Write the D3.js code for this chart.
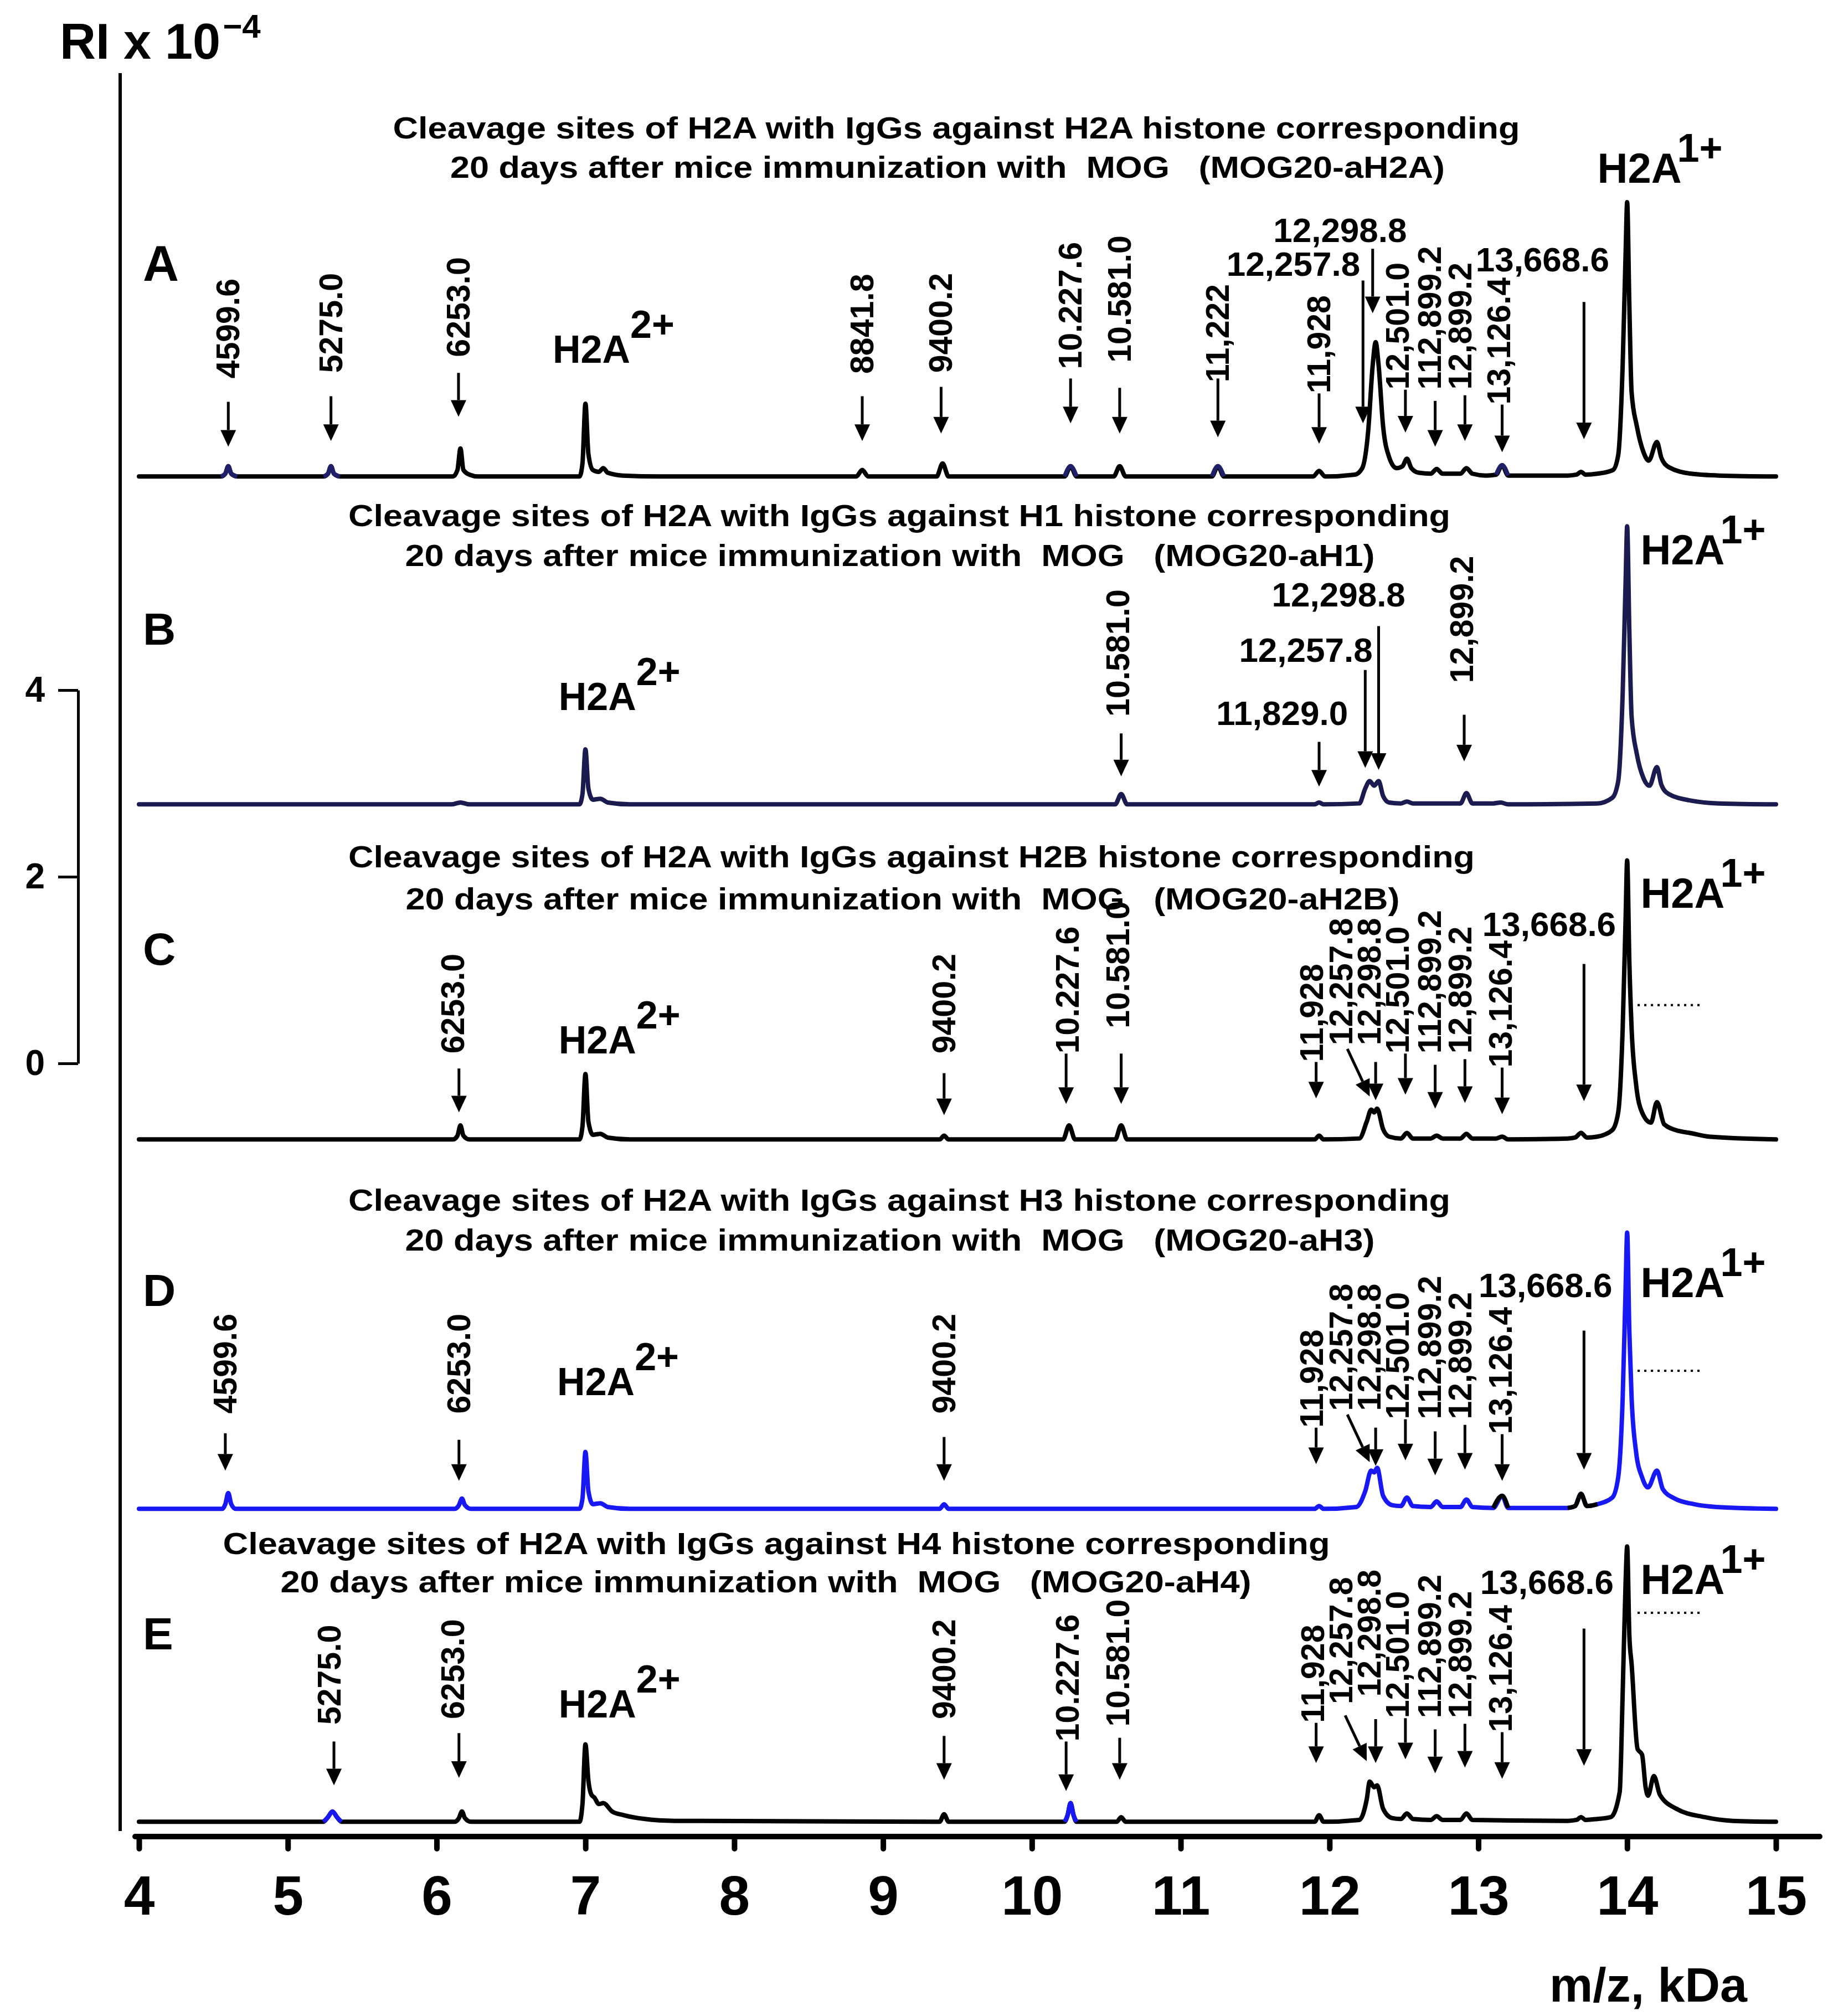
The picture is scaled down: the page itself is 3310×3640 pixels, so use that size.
<!DOCTYPE html>
<html>
<head>
<meta charset="utf-8">
<script src="https://cdn.jsdelivr.net/npm/d3@7"></script>
<style>body{margin:0;background:#fff}</style>
</head>
<body>
<script>
var FONT = "'Liberation Sans', Arial, sans-serif"

// ---- data ----
var xTicks = [4,5,6,7,8,9,10,11,12,13,14,15]
var scaleTicks = [0,2,4]
var panelLetters = ["A","B","C","D","E"]

var titleLine1 = [
	"Cleavage sites of H2A with IgGs against H2A histone corresponding",
	"Cleavage sites of H2A with IgGs against H1 histone corresponding",
	"Cleavage sites of H2A with IgGs against H2B histone corresponding",
	"Cleavage sites of H2A with IgGs against H3 histone corresponding",
	"Cleavage sites of H2A with IgGs against H4 histone corresponding"
]
var titleLine2 = [
	"20 days after mice immunization with  MOG   (MOG20-aH2A)",
	"20 days after mice immunization with  MOG   (MOG20-aH1)",
	"20 days after mice immunization with  MOG   (MOG20-aH2B)",
	"20 days after mice immunization with  MOG   (MOG20-aH3)",
	"20 days after mice immunization with  MOG   (MOG20-aH4)"
]

// spectra: [m/z kDa, RI x 10^-4]
var traceA = [[4.0,0.01],[4.55,0.01],[4.58,0.04],[4.60,0.12],[4.62,0.04],[4.66,0.01],
	[5.24,0.01],[5.27,0.04],[5.29,0.12],[5.31,0.04],[5.35,0.01],
	[6.11,0.01],[6.14,0.08],[6.16,0.31],[6.18,0.08],[6.22,0.03],[6.28,0.01],
	[6.96,0.01],[6.98,0.15],[7.00,0.79],[7.02,0.25],[7.05,0.08],[7.09,0.06],[7.12,0.10],[7.15,0.05],[7.25,0.02],[7.5,0.01],
	[8.82,0.01],[8.86,0.08],[8.90,0.01],
	[9.36,0.01],[9.40,0.15],[9.44,0.01],
	[10.22,0.01],[10.26,0.12],[10.30,0.01],
	[10.55,0.01],[10.59,0.12],[10.63,0.01],
	[11.21,0.01],[11.25,0.12],[11.29,0.01],
	[11.89,0.01],[11.93,0.07],[11.97,0.01],
	[12.17,0.03],[12.22,0.10],[12.26,0.5],[12.29,1.2],[12.31,1.45],[12.33,1.2],[12.36,0.55],[12.40,0.22],[12.45,0.10],[12.49,0.12],[12.52,0.20],[12.55,0.10],[12.60,0.05],
	[12.68,0.04],[12.72,0.09],[12.76,0.04],
	[12.88,0.04],[12.92,0.10],[12.96,0.04],
	[13.05,0.02],[13.12,0.03],[13.16,0.13],[13.20,0.02],
	[13.60,0.02],[13.66,0.03],[13.69,0.06],[13.72,0.03],
	[13.80,0.04],[13.905,0.08],[13.94,0.24],[13.97,1.21],[13.99,2.42],[14.0,2.95],[14.015,1.83],[14.03,0.91],[14.065,0.55],[14.11,0.27],[14.145,0.18],[14.2,0.38],[14.23,0.21],[14.28,0.11],[14.43,0.04],[14.62,0.02],[15.0,0.01]]

var traceB = [[4.0,0.01],[6.10,0.01],[6.16,0.03],[6.22,0.01],
	[6.96,0.01],[6.98,0.12],[7.0,0.60],[7.02,0.18],[7.05,0.06],[7.10,0.07],[7.15,0.03],[7.3,0.01],
	[10.56,0.01],[10.60,0.12],[10.64,0.01],
	[11.90,0.01],[11.93,0.03],[11.96,0.01],
	[12.20,0.02],[12.24,0.18],[12.27,0.26],[12.30,0.21],[12.33,0.26],[12.36,0.10],[12.40,0.03],
	[12.48,0.02],[12.52,0.04],[12.56,0.02],
	[12.88,0.02],[12.92,0.13],[12.96,0.02],
	[13.10,0.02],[13.15,0.03],[13.20,0.01],
	[13.80,0.02],[13.90,0.08],[13.94,0.26],[13.97,1.2],[13.99,2.42],[14.0,2.99],[14.015,1.85],[14.03,0.95],[14.065,0.55],[14.11,0.29],[14.15,0.21],[14.2,0.41],[14.23,0.22],[14.28,0.12],[14.43,0.05],[14.62,0.02],[15.0,0.01]]

var traceC = [[4.0,0.01],[6.11,0.01],[6.14,0.05],[6.16,0.16],[6.18,0.05],[6.22,0.01],
	[6.96,0.01],[6.98,0.15],[7.0,0.71],[7.02,0.2],[7.05,0.06],[7.10,0.07],[7.15,0.03],[7.3,0.01],
	[9.38,0.01],[9.41,0.05],[9.44,0.01],
	[10.21,0.01],[10.25,0.16],[10.29,0.01],
	[10.56,0.01],[10.60,0.16],[10.64,0.01],
	[11.90,0.01],[11.93,0.05],[11.96,0.01],
	[12.20,0.02],[12.25,0.2],[12.28,0.33],[12.30,0.30],[12.32,0.34],[12.36,0.12],[12.40,0.04],
	[12.48,0.02],[12.52,0.08],[12.56,0.02],
	[12.68,0.02],[12.72,0.05],[12.76,0.02],
	[12.88,0.02],[12.92,0.07],[12.96,0.02],
	[13.12,0.02],[13.16,0.04],[13.20,0.01],
	[13.60,0.02],[13.65,0.03],[13.69,0.08],[13.73,0.03],
	[13.80,0.04],[13.90,0.11],[13.94,0.30],[13.97,1.2],[13.99,2.4],[14.0,3.0],[14.015,1.9],[14.03,1.2],[14.06,0.6],[14.10,0.3],[14.16,0.19],[14.2,0.41],[14.25,0.17],[14.35,0.10],[14.42,0.08],[14.55,0.04],[15.0,0.01]]

var traceD = [[4.0,0.01],[4.56,0.01],[4.58,0.06],[4.60,0.18],[4.62,0.06],[4.65,0.01],
	[6.12,0.01],[6.15,0.05],[6.17,0.12],[6.19,0.05],[6.23,0.01],
	[6.96,0.01],[6.98,0.12],[7.0,0.62],[7.02,0.2],[7.05,0.06],[7.10,0.07],[7.15,0.03],[7.3,0.01],
	[9.38,0.01],[9.41,0.06],[9.44,0.01],
	[11.90,0.01],[11.93,0.04],[11.96,0.01],
	[12.18,0.03],[12.24,0.2],[12.28,0.42],[12.30,0.40],[12.32,0.45],[12.36,0.15],[12.42,0.05],
	[12.48,0.04],[12.52,0.13],[12.56,0.04],
	[12.68,0.03],[12.72,0.09],[12.76,0.03],
	[12.88,0.03],[12.92,0.11],[12.96,0.03],
	[13.10,0.02],[13.16,0.15],[13.20,0.02],
	[13.60,0.02],[13.65,0.04],[13.69,0.17],[13.73,0.04],
	[13.80,0.06],[13.90,0.13],[13.94,0.35],[13.97,1.2],[13.99,2.4],[14.0,2.97],[14.015,1.9],[14.03,1.2],[14.06,0.62],[14.10,0.35],[14.14,0.24],[14.2,0.42],[14.24,0.22],[14.32,0.12],[14.45,0.06],[14.6,0.03],[15.0,0.01]]

var traceE = [[4.0,0.01],[5.24,0.01],[5.27,0.06],[5.30,0.12],[5.33,0.06],[5.36,0.01],
	[6.12,0.01],[6.15,0.05],[6.17,0.12],[6.19,0.05],[6.23,0.01],
	[6.96,0.01],[6.98,0.2],[7.0,0.84],[7.02,0.45],[7.04,0.3],[7.06,0.27],[7.09,0.2],[7.12,0.21],[7.18,0.12],[7.26,0.08],[7.4,0.04],[7.6,0.02],
	[9.38,0.01],[9.41,0.09],[9.44,0.01],
	[10.22,0.01],[10.24,0.08],[10.26,0.21],[10.28,0.08],[10.30,0.01],
	[10.57,0.01],[10.60,0.06],[10.63,0.01],
	[11.90,0.01],[11.93,0.08],[11.96,0.01],
	[12.20,0.03],[12.25,0.25],[12.27,0.44],[12.30,0.38],[12.32,0.40],[12.36,0.15],[12.42,0.05],
	[12.48,0.04],[12.52,0.10],[12.56,0.04],
	[12.68,0.03],[12.72,0.07],[12.76,0.03],
	[12.88,0.03],[12.92,0.10],[12.96,0.03],
	[13.60,0.02],[13.66,0.03],[13.69,0.06],[13.72,0.03],
	[13.80,0.04],[13.89,0.06],[13.95,0.33],[13.97,1.39],[13.99,2.6],[14.0,2.96],[14.015,2.0],[14.03,1.7],[14.07,0.79],[14.10,0.73],[14.125,0.37],[14.14,0.29],[14.18,0.5],[14.22,0.3],[14.33,0.15],[14.52,0.06],[14.71,0.02],[15.0,0.01]]

// annotations: [label, kind, labelMz, labelRI, tailMz, tailRI, tipMz, tipRI]
var marksA = [
	["4599.6","v",4.60,1.06, 4.60,0.81,4.60,0.33],
	["5275.0","v",5.29,1.12, 5.29,0.87,5.29,0.39],
	["6253.0","v",6.147,1.29, 6.147,1.12,6.147,0.65],
	["8841.8","v",8.86,1.11, 8.86,0.87,8.86,0.39],
	["9400.2","v",9.39,1.12, 9.39,0.97,9.39,0.47],
	["10.227.6","v",10.26,1.16, 10.26,1.06,10.26,0.58],
	["10.581.0","v",10.59,1.23, 10.59,0.96,10.59,0.47],
	["11,222","v",11.25,1.02, 11.25,1.06,11.25,0.43],
	["11,928","v",11.93,0.90, 11.93,0.90,11.93,0.36],
	["12,257.8","h",12.206,2.16, 12.225,2.11,12.225,0.58],
	["12,298.8","h",12.52,2.52, 12.29,2.45,12.29,1.76],
	["12,501.0","v",12.46,0.94, 12.51,0.94,12.51,0.48],
	["112,899.2","v",12.675,0.94, 12.71,0.82,12.71,0.33],
	["12,899.2","v",12.88,0.94, 12.91,0.88,12.91,0.39],
	["13,126.4","v",13.14,0.78, 13.16,0.78,13.16,0.27],
	["13,668.6","h",13.88,2.21, 13.71,1.88,13.71,0.41]
]
var marksB = [
	["10.581.0","v",10.58,0.95, 10.60,0.77,10.60,0.31],
	["11,829.0","h",12.124,0.86, 11.93,0.68,11.93,0.20],
	["12,257.8","h",12.29,1.54, 12.24,1.45,12.24,0.40],
	["12,298.8","h",12.51,2.13, 12.33,1.92,12.33,0.38],
	["12,899.2","v",12.89,1.31, 12.905,0.97,12.905,0.47]
]
var marksC = [
	["6253.0","v",6.11,0.93, 6.15,0.77,6.15,0.30],
	["9400.2","v",9.41,0.93, 9.41,0.72,9.41,0.27],
	["10.227.6","v",10.24,0.93, 10.23,0.93,10.23,0.39],
	["10.581.0","v",10.58,1.20, 10.60,0.93,10.60,0.39],
	["11,928","v",11.88,0.84, 11.91,0.84,11.91,0.45],
	["12,257.8","v",12.08,1.02, 12.12,0.98,12.27,0.47],
	["12,298.8","v",12.27,1.02, 12.31,0.84,12.31,0.43],
	["12,501.0","v",12.46,0.93, 12.51,0.93,12.51,0.49],
	["112,899.2","v",12.675,0.93, 12.71,0.81,12.71,0.34],
	["12,899.2","v",12.88,0.93, 12.91,0.87,12.91,0.40],
	["13,126.4","v",13.15,0.78, 13.16,0.78,13.16,0.28],
	["13,668.6","h",13.925,2.19, 13.71,1.89,13.71,0.42]
]
var marksD = [
	["4599.6","v",4.58,1.03, 4.58,0.82,4.58,0.42],
	["6253.0","v",6.15,1.03, 6.15,0.75,6.15,0.31],
	["9400.2","v",9.41,1.03, 9.41,0.78,9.41,0.31],
	["11,928","v",11.88,0.88, 11.91,0.88,11.91,0.49],
	["12,257.8","v",12.08,1.06, 12.12,1.02,12.27,0.51],
	["12,298.8","v",12.27,1.06, 12.31,0.88,12.31,0.47],
	["12,501.0","v",12.46,0.97, 12.51,0.97,12.51,0.53],
	["112,899.2","v",12.675,0.97, 12.71,0.84,12.71,0.37],
	["12,899.2","v",12.88,0.97, 12.91,0.91,12.91,0.43],
	["13,126.4","v",13.15,0.81, 13.16,0.81,13.16,0.31],
	["13,668.6","h",13.90,2.28, 13.71,1.92,13.71,0.43]
]
var marksE = [
	["5275.0","v",5.28,1.05, 5.31,0.87,5.31,0.40],
	["6253.0","v",6.11,1.11, 6.15,0.96,6.15,0.48],
	["9400.2","v",9.41,1.11, 9.41,0.93,9.41,0.46],
	["10.227.6","v",10.24,0.87, 10.23,0.87,10.23,0.34],
	["10.581.0","v",10.58,1.03, 10.59,0.91,10.59,0.46],
	["11,928","v",11.89,1.07, 11.91,1.07,11.91,0.64],
	["12,257.8","v",12.08,1.27, 12.105,1.15,12.25,0.66],
	["12,298.8","v",12.27,1.35, 12.31,1.11,12.31,0.64],
	["12,501.0","v",12.46,1.12, 12.51,1.12,12.51,0.68],
	["112,899.2","v",12.675,1.12, 12.71,1.00,12.71,0.53],
	["12,899.2","v",12.88,1.12, 12.91,1.06,12.91,0.59],
	["13,126.4","v",13.15,0.97, 13.16,0.97,13.16,0.47],
	["13,668.6","h",13.91,2.45, 13.71,2.08,13.71,0.61]
]

// ion labels [mz of left edge, RI of baseline]
var ionTwo = [[6.78,1.23],[6.82,1.02],[6.82,0.93],[6.81,1.23],[6.82,1.13]]
var ionOne = [[13.80,3.16],[14.09,2.58],[14.09,2.49],[14.09,2.28],[14.09,2.45]]
// dotted marker [mz from, mz to, RI]
var dotted = [null, null, [14.07,14.50,1.45], [14.07,14.49,1.49], [14.07,14.49,2.25]]

var traceColors = ["#000000","#1c1b4f","#000000","#1818f5","#000000"]
// stretches of a trace drawn in another colour [mz from, mz to, colour]
var highlights = [
	[[4.55,4.66,"#20206a"],[5.24,5.35,"#20206a"],[10.22,10.30,"#20206a"],[11.21,11.29,"#20206a"],[13.12,13.20,"#20206a"]],
	[],
	[],
	[[13.10,13.20,"#000000"],[13.60,13.80,"#000000"]],
	[[5.24,5.36,"#1818f5"],[10.22,10.30,"#1818f5"]]
]

var traces = [traceA, traceB, traceC, traceD, traceE]
var marks = [marksA, marksB, marksC, marksD, marksE]

// ---- layout ----
var base = [862, 1454, 2059, 2726, 3291]   // baseline pixel of each spectrum
var unit = 168.5                            // px per RI unit (from the 0-4 scale bar)
var titlePos = [ // [centre1, baseline1, width1, centre2, baseline2, width2]
	[1727,250,2035,1711,321,1796],
	[1624,950,1990,1607,1022,1751],
	[1646,1566,2034,1630,1642,1795],
	[1624,2186,1990,1607,2258,1751],
	[1402,2806,1999,1383,2875,1753]
]
var letterY = [507,1164,1742,2358,2978]
var letterSize = [90,82,82,82,82]

var svg = d3.select("body").append("svg")
	.attr("width", 3310)
	.attr("height", 3640)
	.attr("font-family", FONT)
	.attr("font-weight", "bold")

var x = d3.scaleLinear().domain([4,15]).range([251,3207])

// left frame line
svg.append("line")
	.attr("x1",217).attr("y1",132).attr("x2",217).attr("y2",3306)
	.attr("stroke","#000").attr("stroke-width",6)

svg.append("text")
	.attr("x",108).attr("y",106).attr("font-size",90)
	.call(function(t) {
		t.append("tspan").text("RI x 10")
		t.append("tspan").attr("font-size",60).attr("dy",-38).attr("dx",4).text("\u22124")
	})

// scale bar
var sy = d3.scaleLinear().domain([0,4]).range([1920,1246])
var sg = svg.append("g")
	.attr("transform","translate(141,0)")
	.call(d3.axisLeft(sy).tickValues(scaleTicks).tickFormat(d3.format("d")).tickSize(36).tickSizeOuter(0).tickPadding(24))
sg.attr("font-size",64).attr("font-family",FONT)
sg.select(".domain").attr("stroke-width",5)
sg.selectAll(".tick line").attr("stroke-width",5)

// bottom axis
var ax = svg.append("g")
	.attr("transform","translate(0,3316)")
	.call(d3.axisBottom(x).tickValues(xTicks).tickSize(22).tickSizeOuter(0))
ax.attr("font-size",100).attr("font-family",FONT)
ax.select(".domain").remove()
ax.append("line")
	.attr("x1",244).attr("x2",3286).attr("y1",0).attr("y2",0)
	.attr("stroke","#000").attr("stroke-width",10).attr("stroke-linecap","round")
ax.selectAll(".tick line").attr("stroke-width",10).attr("stroke-linecap","round")
ax.selectAll(".tick text").attr("y",141).attr("dy",0)

svg.append("text")
	.attr("x",2798).attr("y",3614).attr("font-size",88)
	.text("m/z, kDa")

function drawPanel(i) {
	var g = svg.append("g")
	var y = d3.scaleLinear().domain([0,1]).range([base[i], base[i]-unit])
	var line = d3.line()
		.x(function(d) { return x(d[0]) })
		.y(function(d) { return y(d[1]) })
		.curve(d3.curveMonotoneX)

	var tp = titlePos[i]
	g.append("text").attr("x",tp[0]).attr("y",tp[1]).attr("font-size",56)
		.attr("text-anchor","middle").attr("textLength",tp[2]).attr("lengthAdjust","spacingAndGlyphs")
		.style("white-space","pre").text(titleLine1[i])
	g.append("text").attr("x",tp[3]).attr("y",tp[4]).attr("font-size",56)
		.attr("text-anchor","middle").attr("textLength",tp[5]).attr("lengthAdjust","spacingAndGlyphs")
		.style("white-space","pre").text(titleLine2[i])

	g.append("text").attr("x",258).attr("y",letterY[i]).attr("font-size",letterSize[i])
		.text(panelLetters[i])

	g.append("path")
		.attr("d", line(traces[i]))
		.attr("fill","none")
		.attr("stroke", traceColors[i])
		.attr("stroke-width",8)
		.attr("stroke-linejoin","round")
		.attr("stroke-linecap","round")

	highlights[i].forEach(function(h) {
		var pts = traces[i].filter(function(p) { return p[0] >= h[0] && p[0] <= h[1] })
		g.append("path").attr("d", line(pts)).attr("fill","none")
			.attr("stroke",h[2]).attr("stroke-width",8).attr("stroke-linejoin","round")
	})

	marks[i].forEach(function(m) {
		var x0 = x(m[4]), y0 = y(m[5]), x1 = x(m[6]), y1 = y(m[7])
		var len = Math.hypot(x1-x0, y1-y0)
		var ux = (x1-x0)/len, uy = (y1-y0)/len
		var hl = 30, hw = 14
		var bx = x1 - ux*hl, by = y1 - uy*hl
		g.append("line")
			.attr("x1",x0).attr("y1",y0).attr("x2",bx).attr("y2",by)
			.attr("stroke","#000").attr("stroke-width",5)
		g.append("path")
			.attr("d","M"+x1+","+y1+"L"+(bx-uy*hw)+","+(by+ux*hw)+"L"+(bx+uy*hw)+","+(by-ux*hw)+"Z")
			.attr("fill","#000")
		if(m[1] == "v") {
			g.append("text")
				.attr("transform","translate("+x(m[2])+","+y(m[3])+") rotate(-90)")
				.attr("font-size",59)
				.attr("dominant-baseline","central")
				.text(m[0])
		} else {
			g.append("text")
				.attr("x",x(m[2])).attr("y",y(m[3]))
				.attr("font-size",62)
				.attr("text-anchor","end")
				.text(m[0])
		}
	})

	var t2 = g.append("text").attr("x",x(ionTwo[i][0])).attr("y",y(ionTwo[i][1])).attr("font-size",70)
	t2.append("tspan").text("H2A")
	t2.append("tspan").attr("dy",-45).text("2+")

	var t1 = g.append("text").attr("x",x(ionOne[i][0])).attr("y",y(ionOne[i][1])).attr("font-size",76)
	t1.append("tspan").text("H2A")
	t1.append("tspan").attr("font-size",72).attr("dx",-8).attr("dy",-38).text("1+")

	if(dotted[i]) {
		var d = dotted[i]
		g.append("line")
			.attr("x1",x(d[0])).attr("x2",x(d[1])).attr("y1",y(d[2])).attr("y2",y(d[2]))
			.attr("stroke","#000").attr("stroke-width",4).attr("stroke-dasharray","4,8")
	}
}

for(var i = 0; i < 5; i++) drawPanel(i)
</script>
</body>
</html>
